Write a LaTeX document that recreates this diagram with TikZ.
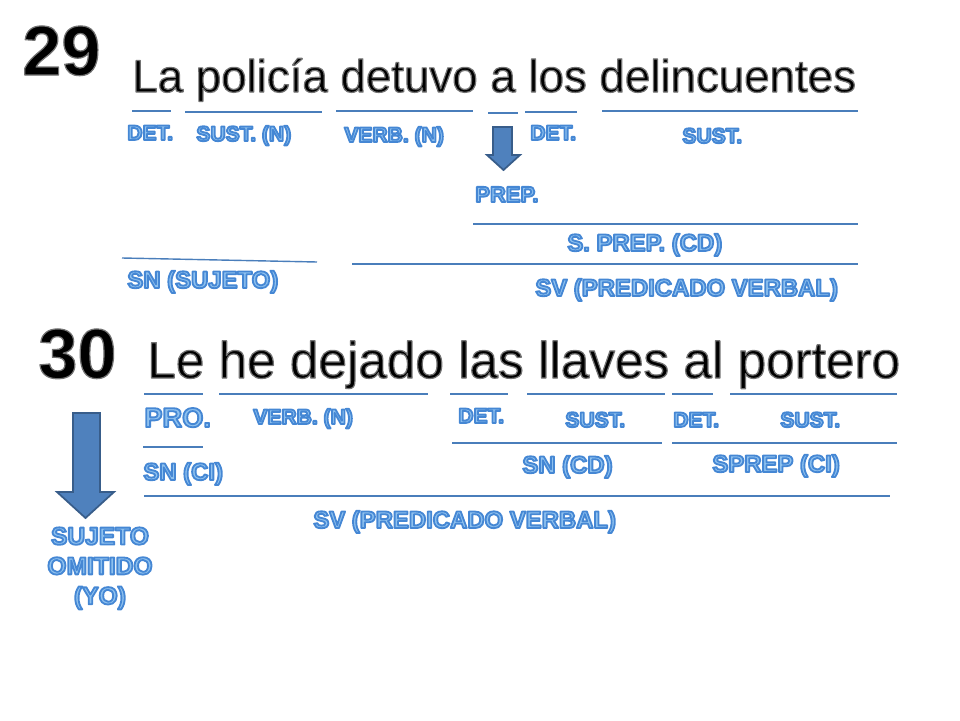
\documentclass[tikz,border=0pt]{standalone}
\usepackage{fontspec}
\setmainfont{Liberation Sans}
\usetikzlibrary{positioning}
\definecolor{linea}{HTML}{4A7EBB}
\definecolor{relleno}{HTML}{8EC1EF}
\definecolor{flecha}{HTML}{4F81BD}
\definecolor{flechaborde}{HTML}{385D8A}
% texto con contorno: relleno del color del nodo, trazo de otro color
\newcommand{\etiq}[1]{{\special{pdf:literal direct 2 Tr 1 j 1.05 w 0.27 0.53 0.83 RG}#1\special{pdf:literal direct 0 Tr 0 j}}}
\newcommand{\negro}[1]{{\special{pdf:literal direct 2 Tr 1 j 0.7 w 0.45 0.45 0.45 RG}#1\special{pdf:literal direct 0 Tr 0 j}}}
\tikzset{raya/.style = {draw=linea, line width=0.8pt},
         palabra/.style = {text=relleno, inner sep=0pt, anchor=base west,
                           font=\bfseries\fontsize{12}{14}\selectfont},
         sintagma/.style = {palabra, font=\bfseries\fontsize{13.6}{15}\selectfont},
         titulo/.style = {inner sep=0pt, anchor=base west, font=\fontsize{26}{30}\selectfont},
         numero/.style = {inner sep=0pt, anchor=base west, font=\bfseries\fontsize{40}{42}\selectfont},
         bloque/.style = {fill=flecha, draw=flechaborde, line width=1pt}}

\begin{document}
\begin{tikzpicture}[x=0.02cm, y=-0.02cm]
    \useasboundingbox (0, 0) rectangle (960, 720);
    % oracion 29
    \node [numero] (num29) at (22, 75) {\negro{29}};
    \node [titulo] (frase29) at (132, 92) {\negro{La policía detuvo a los delincuentes}};
    \draw [raya] (132, 111) -- (171, 111);
    \draw [raya] (185, 112) -- (322, 112);
    \draw [raya] (336, 111) -- (473, 111);
    \draw [raya] (488, 113) -- (518, 113);
    \draw [raya] (525, 112) -- (577, 112);
    \draw [raya] (602, 111) -- (858, 111);
    \node [palabra] (det29a) at (127, 140) {\etiq{DET.}};
    \node [palabra] (sust29a) at (196, 141) {\etiq{SUST. (N)}};
    \node [palabra] (verb29) at (344, 142) {\etiq{VERB. (N)}};
    \node [palabra] (det29b) at (530, 140) {\etiq{DET.}};
    \node [palabra] (sust29b) at (682, 143) {\etiq{SUST.}};
    \draw [bloque] (493, 127) -- (512, 127) -- (512, 155) -- (520, 155) -- (503.5, 170)
                   -- (487, 155) -- (493, 155) -- cycle;
    \node [palabra, font=\bfseries\fontsize{12.5}{14}\selectfont] (prep29) at (475, 202) {\etiq{PREP.}};
    \draw [raya] (473, 224) -- (858, 224);
    \node [sintagma] (sprep29) at (567, 251) {\etiq{S. PREP. (CD)}};
    \draw [raya] (352, 264) -- (858, 264);
    \node [sintagma] (sv29) at (535, 296) {\etiq{SV (PREDICADO VERBAL)}};
    \draw [raya] (122, 258) -- (317, 262);
    \node [sintagma] (sn29) at (127, 288) {\etiq{SN (SUJETO)}};
    % oracion 30
    \node [numero] (num30) at (38, 378) {\negro{30}};
    \node [titulo, font=\fontsize{29.2}{33}\selectfont] (frase30) at (147, 378) {\negro{Le he dejado las llaves al portero}};
    \draw [raya] (144, 394) -- (203, 394);
    \draw [raya] (219, 394) -- (428, 394);
    \draw [raya] (450, 394) -- (508, 394);
    \draw [raya] (527, 394) -- (665, 394);
    \draw [raya] (672, 394) -- (713, 394);
    \draw [raya] (730, 394) -- (897, 394);
    \node [palabra, font=\bfseries\fontsize{15.5}{17}\selectfont] (pro30) at (144, 427) {\etiq{PRO.}};
    \node [palabra] (verb30) at (253, 424) {\etiq{VERB. (N)}};
    \node [palabra] (det30a) at (458, 423) {\etiq{DET.}};
    \node [palabra] (sust30a) at (565, 427) {\etiq{SUST.}};
    \node [palabra] (det30b) at (673, 427) {\etiq{DET.}};
    \node [palabra] (sust30b) at (780, 427) {\etiq{SUST.}};
    \draw [raya] (143, 447) -- (203, 447);
    \draw [raya] (452, 443) -- (662, 443);
    \draw [raya] (672, 443) -- (897, 443);
    \node [sintagma] (snci30) at (143, 480) {\etiq{SN (CI)}};
    \node [sintagma] (sncd30) at (522, 473) {\etiq{SN (CD)}};
    \node [sintagma] (sprep30) at (712, 472) {\etiq{SPREP (CI)}};
    \draw [raya] (144, 496) -- (890, 496);
    \node [sintagma] (sv30) at (313, 528) {\etiq{SV (PREDICADO VERBAL)}};
    \draw [bloque] (73, 413) -- (100, 413) -- (100, 492) -- (114, 492) -- (85.5, 518)
                   -- (57, 492) -- (73, 492) -- cycle;
    \node [sintagma, anchor=north, align=center, font=\bfseries\fontsize{14}{17}\selectfont]
          (suj30) at (100, 527) {\etiq{SUJETO}\\\etiq{OMITIDO}\\\etiq{(YO)}};
  \end{tikzpicture}
\end{document}
